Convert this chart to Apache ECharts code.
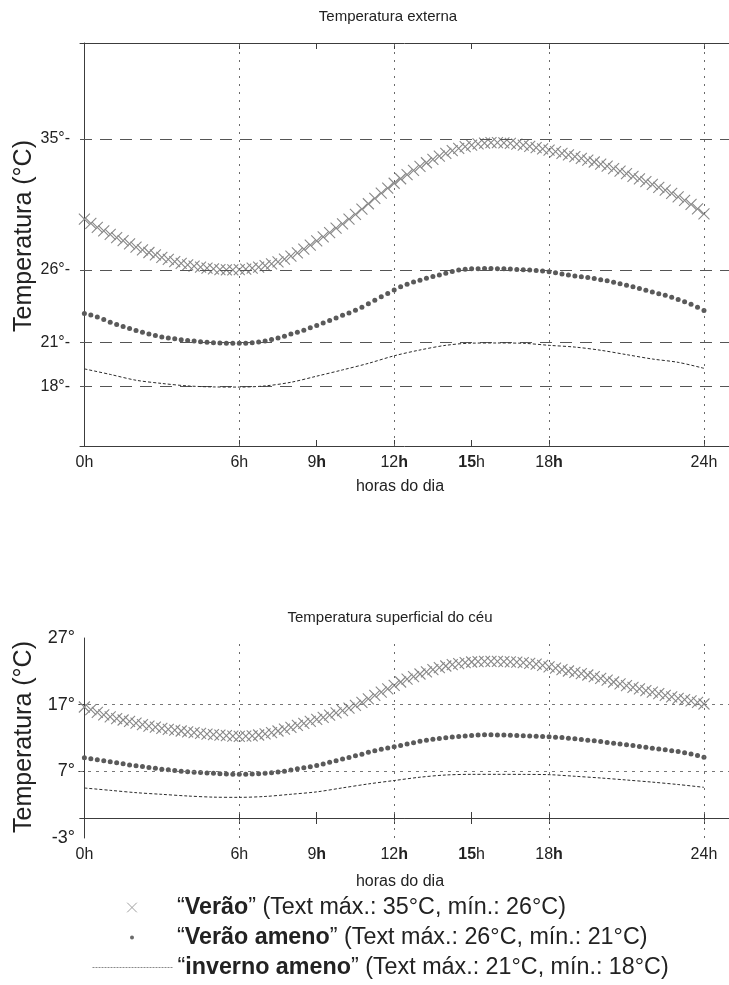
<!DOCTYPE html>
<html><head><meta charset="utf-8">
<script src="https://cdn.jsdelivr.net/npm/echarts@6/dist/echarts.min.js"></script>
<style>html,body{margin:0;padding:0;background:#fff}#c{width:729px;height:985px}</style>
</head><body><div id="c"></div>
<script>
// ---- data ----
const hours = [
 0,0.25,0.5,0.75, 1,1.25,1.5,1.75, 2,2.25,2.5,2.75, 3,3.25,3.5,3.75, 4,4.25,4.5,4.75,
 5,5.25,5.5,5.75, 6,6.25,6.5,6.75, 7,7.25,7.5,7.75, 8,8.25,8.5,8.75, 9,9.25,9.5,9.75,
 10,10.25,10.5,10.75, 11,11.25,11.5,11.75, 12,12.25,12.5,12.75, 13,13.25,13.5,13.75,
 14,14.25,14.5,14.75, 15,15.25,15.5,15.75, 16,16.25,16.5,16.75, 17,17.25,17.5,17.75,
 18,18.25,18.5,18.75, 19,19.25,19.5,19.75, 20,20.25,20.5,20.75, 21,21.25,21.5,21.75,
 22,22.25,22.5,22.75, 23,23.25,23.5,23.75, 24];
const hoursHourly = [0,1,2,3,4,5,6,7,8,9,10,11,12,13,14,15,16,17,18,19,20,21,22,23,24];

// Temperatura externa
const extVerao = [
 29.50,29.20,28.92,28.68, 28.45,28.23,28.01,27.79, 27.57,27.38,27.20,27.03, 26.87,26.72,26.58,26.46,
 26.35,26.26,26.19,26.12, 26.07,26.03,26.01,26.00, 26.02,26.06,26.12,26.20, 26.30,26.42,26.56,26.74,
 26.95,27.18,27.43,27.70, 28.00,28.28,28.57,28.87, 29.17,29.49,29.82,30.18, 30.55,30.92,31.28,31.63,
 31.96,32.27,32.56,32.85, 33.12,33.37,33.60,33.82, 34.02,34.20,34.35,34.48, 34.58,34.66,34.72,34.75,
 34.75,34.73,34.70,34.65, 34.58,34.50,34.41,34.32, 34.23,34.13,34.02,33.91, 33.79,33.67,33.55,33.42,
 33.28,33.13,32.97,32.80, 32.62,32.44,32.26,32.07, 31.88,31.68,31.48,31.26, 31.03,30.78,30.51,30.20, 29.85];
const extVeraoAmeno = [
 23.00,22.90,22.77,22.60, 22.40,22.25,22.11,21.97, 21.84,21.72,21.60,21.49, 21.40,21.33,21.27,21.21,
 21.16,21.11,21.07,21.03, 21.00,20.98,20.97,20.96, 20.96,20.97,21.00,21.04, 21.12,21.22,21.33,21.45,
 21.59,21.72,21.86,22.02, 22.18,22.35,22.52,22.70, 22.88,23.05,23.23,23.43, 23.67,23.92,24.16,24.39,
 24.62,24.85,25.02,25.17, 25.30,25.43,25.55,25.66, 25.78,25.90,26.00,26.05, 26.08,26.09,26.10,26.10,
 26.09,26.08,26.06,26.03, 26.01,25.99,25.96,25.93, 25.87,25.80,25.72,25.65, 25.59,25.54,25.49,25.41,
 25.33,25.25,25.15,25.05, 24.95,24.84,24.72,24.60, 24.49,24.37,24.26,24.12, 23.97,23.81,23.64,23.44, 23.21];
const extInverno = [19.20,18.82,18.42,18.20,18.03,17.96,17.95,18.03,18.28,18.70,19.13,19.58,20.10,
 20.50,20.82,20.97,20.98,20.96,20.82,20.70,20.48,20.18,19.88,19.65,19.24];

// Temperatura superficial do céu
const skyVerao = [
 16.65,16.25,15.85,15.48, 15.18,14.92,14.70,14.48, 14.24,14.01,13.79,13.62, 13.46,13.31,13.18,13.05,
 12.92,12.80,12.69,12.59, 12.50,12.42,12.35,12.28, 12.25,12.27,12.33,12.45, 12.62,12.82,13.05,13.32,
 13.61,13.90,14.19,14.48, 14.78,15.10,15.43,15.77, 16.12,16.48,16.88,17.35, 17.87,18.38,18.88,19.38,
 19.90,20.40,20.82,21.22, 21.60,21.93,22.25,22.56, 22.80,23.00,23.17,23.30, 23.40,23.47,23.50,23.51,
 23.50,23.47,23.43,23.37, 23.29,23.19,23.07,22.90, 22.68,22.47,22.25,22.05, 21.85,21.66,21.45,21.20,
 20.94,20.68,20.40,20.12, 19.85,19.60,19.36,19.12, 18.88,18.64,18.40,18.17, 17.96,17.76,17.56,17.33, 17.10];
const skyVeraoAmeno = [
 9.05,8.90,8.75,8.60, 8.44,8.28,8.12,7.96, 7.83,7.71,7.58,7.46, 7.33,7.22,7.12,7.02,
 6.93,6.87,6.81,6.75, 6.70,6.65,6.61,6.57, 6.55,6.56,6.59,6.64, 6.71,6.79,6.89,7.03,
 7.21,7.38,7.53,7.69, 7.87,8.10,8.35,8.60, 8.84,9.08,9.32,9.58, 9.85,10.08,10.30,10.50,
 10.70,10.88,11.09,11.30, 11.50,11.66,11.80,11.94, 12.05,12.14,12.23,12.31, 12.38,12.44,12.47,12.47,
 12.46,12.44,12.41,12.37, 12.33,12.30,12.27,12.24, 12.19,12.13,12.06,11.98, 11.89,11.79,11.68,11.57,
 11.46,11.34,11.23,11.11, 11.00,10.87,10.74,10.61, 10.48,10.36,10.24,10.10, 9.96,9.80,9.60,9.36, 9.10];
const skyInverno = [4.50,4.15,3.80,3.55,3.30,3.13,3.10,3.23,3.56,3.92,4.52,5.11,5.62,6.12,6.45,
 6.55,6.55,6.54,6.50,6.26,6.00,5.70,5.38,5.02,4.60];

// axes / labels
const xTicks = [0, 6, 9, 12, 15, 18, 24];
const xTickLabels = ['0h', '6h', '9{b|h}', '12{b|h}', '{b|15}h', '18{b|h}', '24h'];
const xGridLines = [6, 12, 18, 24];
const extYTicks = [35, 26, 21, 18];
const skyYTicks = [27, 17, 7, -3];
const skyYGridLines = [17, 7];
const seriesNames = ['Verão', 'Verão ameno', 'inverno ameno'];
const legendNotes = ['Text máx.: 35°C, mín.: 26°C', 'Text máx.: 26°C, mín.: 21°C', 'Text máx.: 21°C, mín.: 18°C'];

// ---- chart ----
const FONT = '"Liberation Sans", Arial, Helvetica, sans-serif';
const AX = '#3c3c3c';
const pair = (xs, ys) => xs.map((x, i) => [x, ys[i]]);
const X_PATH = 'path://M0,0L10,10M10,0L0,10';

function xAxisPair(grid, labelMargin) {
  const base = { type: 'value', gridIndex: grid, min: -0.17, max: 24.97, splitLine: { show: false },
    axisLine: { show: true, lineStyle: { color: AX, width: 1 } } };
  return [
    Object.assign({}, base, { position: 'bottom',
      axisTick: { show: true, inside: true, length: 6, customValues: xTicks, lineStyle: { color: AX } },
      axisLabel: { show: true, customValues: xTicks, margin: labelMargin, fontFamily: FONT, fontSize: 16, color: '#222',
        formatter: v => xTickLabels[xTicks.indexOf(v)] || '',
        rich: { b: { fontFamily: FONT, fontSize: 16, fontWeight: 'bold', color: '#222' } } } }),
    Object.assign({}, base, { position: 'top',
      axisTick: { show: true, inside: true, length: 6, customValues: xTicks, lineStyle: { color: AX } },
      axisLabel: { show: false } })
  ];
}

const vLine = { type: [2, 6], color: '#6a6a6a', width: 1 };
const hLineExt = { type: [12, 8], color: '#555', width: 1 };
const hLineSky = { type: [3, 5], color: '#777', width: 1 };

function markers(name, xIdx, yIdx, ys) {
  const common = { name, type: 'line', xAxisIndex: xIdx, yAxisIndex: yIdx, data: pair(hours, ys),
    showSymbol: true, showAllSymbol: true, lineStyle: { width: 0, opacity: 0 }, emphasis: { disabled: true } };
  return name === 'Verão'
    ? Object.assign(common, { symbol: X_PATH, symbolSize: [11, 11], z: 3,
        itemStyle: { color: '#888888', borderColor: '#888888', borderWidth: 1.1 } })
    : Object.assign(common, { symbol: 'circle', symbolSize: 5, z: 4, itemStyle: { color: '#5a5a5a' } });
}

function inverno(xIdx, yIdx, ys, hLines, hStyle) {
  return { name: 'inverno ameno', type: 'line', xAxisIndex: xIdx, yAxisIndex: yIdx, data: pair(hoursHourly, ys),
    smooth: 0.3, symbol: 'none', lineStyle: { color: '#2a2a2a', width: 1, type: [3, 2] }, z: 5,
    markLine: { silent: true, symbol: 'none', label: { show: false }, animation: false,
      data: xGridLines.map(v => ({ xAxis: v, lineStyle: vLine })).concat(hLines.map(v => ({ yAxis: v, lineStyle: hStyle }))) } };
}

const legendText = name => '“{b|' + name + '}” (' + legendNotes[seriesNames.indexOf(name)] + ')';
const legendBase = { left: 92, orient: 'vertical', padding: 0, itemWidth: 80, selectedMode: false, formatter: legendText,
  textStyle: { fontFamily: FONT, fontSize: 23.3, color: '#222',
    rich: { b: { fontFamily: FONT, fontSize: 23.3, fontWeight: 'bold', color: '#222' } } } };

const option = {
  animation: false,
  backgroundColor: '#fff',
  grid: [
    { left: 80, right: 0, top: 43, height: 403 },
    { left: 80, right: 0, top: 638, height: 200 }
  ],
  xAxis: xAxisPair(0, 9).concat(xAxisPair(1, 9)),
  yAxis: [
    { type: 'value', gridIndex: 0, min: 13.9, max: 41.6, splitLine: { show: false },
      axisLine: { show: true, lineStyle: { color: AX } }, axisTick: { show: false },
      axisLabel: { customValues: extYTicks, margin: 10, fontFamily: FONT, fontSize: 16, color: '#222', formatter: v => v + '°-' } },
    { type: 'value', gridIndex: 1, min: -3, max: 27, splitLine: { show: false },
      axisLine: { show: true, lineStyle: { color: AX } }, axisTick: { show: false },
      axisLabel: { customValues: skyYTicks, margin: 5, fontFamily: FONT, fontSize: 18, color: '#222', formatter: v => v + '°' } },
    { type: 'value', gridIndex: 1, position: 'right', min: -3, max: 27, splitLine: { show: false },
      axisLine: { show: false }, axisLabel: { show: false },
      axisTick: { show: true, inside: true, length: 6, customValues: skyYGridLines, lineStyle: { color: AX } } }
  ],
  legend: [
    Object.assign({}, legendBase, { top: 896, itemHeight: 12,
      data: [{ name: 'Verão', itemStyle: { color: '#a0a0a0', borderColor: '#a0a0a0', borderWidth: 1 }, lineStyle: { opacity: 0 } }] }),
    Object.assign({}, legendBase, { top: 926, itemHeight: 5,
      data: [{ name: 'Verão ameno', itemStyle: { color: '#6a6a6a' }, lineStyle: { opacity: 0 } }] }),
    Object.assign({}, legendBase, { top: 956, itemHeight: 10,
      data: [{ name: 'inverno ameno', itemStyle: { opacity: 0 }, lineStyle: { color: '#8a8a8a', width: 1, type: [2, 1] } }] })
  ],
  graphic: [
    { type: 'text', x: 388, y: 17, style: { text: 'Temperatura externa', font: '15px ' + FONT, fill: '#222', textAlign: 'center', textVerticalAlign: 'middle' } },
    { type: 'text', x: 400, y: 487, style: { text: 'horas do dia', font: '16px ' + FONT, fill: '#222', textAlign: 'center', textVerticalAlign: 'middle' } },
    { type: 'text', x: 24, y: 236, rotation: Math.PI / 2, style: { text: 'Temperatura (°C)', font: '25px ' + FONT, fill: '#222', textAlign: 'center', textVerticalAlign: 'middle' } },
    { type: 'text', x: 390, y: 618, style: { text: 'Temperatura superficial do céu', font: '15px ' + FONT, fill: '#222', textAlign: 'center', textVerticalAlign: 'middle' } },
    { type: 'text', x: 400, y: 882, style: { text: 'horas do dia', font: '16px ' + FONT, fill: '#222', textAlign: 'center', textVerticalAlign: 'middle' } },
    { type: 'text', x: 24, y: 737, rotation: Math.PI / 2, style: { text: 'Temperatura (°C)', font: '25px ' + FONT, fill: '#222', textAlign: 'center', textVerticalAlign: 'middle' } }
  ],
  series: [
    markers('Verão', 0, 0, extVerao),
    markers('Verão ameno', 0, 0, extVeraoAmeno),
    inverno(0, 0, extInverno, extYTicks, hLineExt),
    markers('Verão', 2, 1, skyVerao),
    markers('Verão ameno', 2, 1, skyVeraoAmeno),
    inverno(2, 1, skyInverno, skyYGridLines, hLineSky)
  ]
};

const chart = echarts.init(document.getElementById('c'), null, { renderer: 'canvas' });
chart.setOption(option);
</script>
</body></html>
